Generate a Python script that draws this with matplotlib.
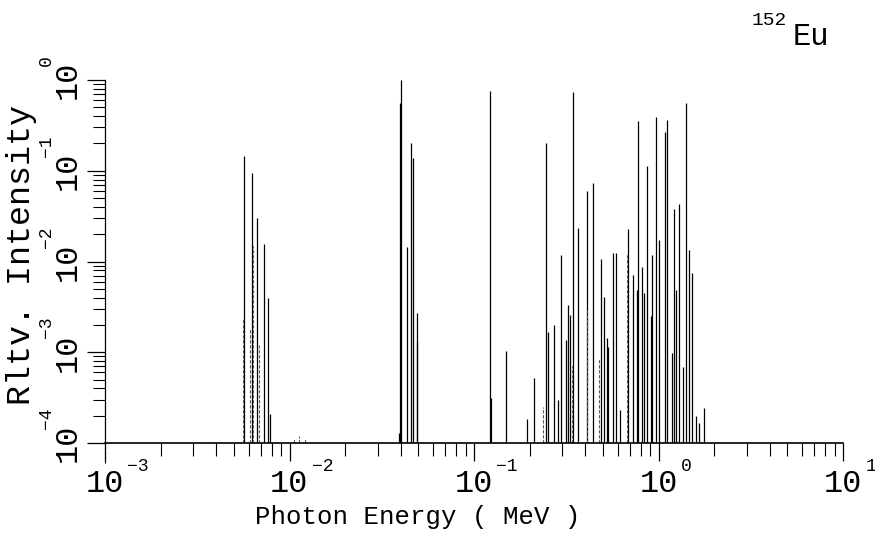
import numpy as np
import matplotlib
matplotlib.use("Agg")
import matplotlib.pyplot as plt
from matplotlib.ticker import LogLocator, NullFormatter

# Sm L x-rays (MeV, relative intensity)
lx_energy = [0.00566, 0.00629, 0.00669, 0.00730, 0.00768, 0.00784]
lx_int = [0.145, 0.094, 0.030, 0.0156, 0.0040, 0.00021]

# Sm K x-rays
kx_energy = [0.0390, 0.03952, 0.04012, 0.0435, 0.0454, 0.0466, 0.0490, 0.0494]
kx_int = [0.00013, 0.56, 1.0, 0.0146, 0.20, 0.137, 0.0027, 0.0013]

# gamma lines
g_energy = [0.1218, 0.1231, 0.1485, 0.1926, 0.2122, 0.2447, 0.2516, 0.2699,
            0.2843, 0.2959, 0.3141, 0.3248, 0.3294, 0.3443, 0.3678, 0.4111,
            0.4440, 0.4887, 0.5035, 0.5240, 0.5345, 0.5640, 0.5863, 0.6185,
            0.6860, 0.7277, 0.7616, 0.7789, 0.8105, 0.8375, 0.8674, 0.9073,
            0.9193, 0.9641, 1.0053, 1.0858, 1.1121, 1.1789, 1.2130, 1.2443,
            1.2991, 1.3627, 1.4080, 1.4576, 1.5281, 1.597, 1.658, 1.769]
g_int = [0.757, 0.00031, 0.00104, 0.000184, 0.00052, 0.201, 0.00168, 0.0020,
         0.00030, 0.0118, 0.00136, 0.0033, 0.0026, 0.732, 0.0232, 0.0598,
         0.0738, 0.0106, 0.0041, 0.00143, 0.00115, 0.0125, 0.0123, 0.00023,
         0.0226, 0.0071, 0.00485, 0.356, 0.0086, 0.0045, 0.113, 0.0025,
         0.0118, 0.394, 0.0173, 0.269, 0.362, 0.00098, 0.0376, 0.0049,
         0.0430, 0.00069, 0.562, 0.0134, 0.0074, 0.00020, 0.000165, 0.00024]

# weak lines, printed broken in the original
weak_energy = [0.00561, 0.00611, 0.00633, 0.00684, 0.0106, 0.0113, 0.0122,
               0.2366, 0.3398, 0.4113, 0.4742, 0.6746]
weak_int = [0.0024, 0.0018, 0.0148, 0.0012, 0.00011, 0.00012, 0.00011,
            0.00025, 0.0007, 0.0029, 0.00086, 0.0125]

x_exps = [-3, -2, -1, 0, 1]
y_exps = [-4, -3, -2, -1, 0]

plt.rcParams["font.family"] = ["Liberation Mono", "DejaVu Sans"]

fig = plt.figure(figsize=(8.75, 5.52), dpi=100)
ax = fig.add_axes([105 / 875, 1 - 443 / 552, 738 / 875, 363 / 552])
ax.set_xscale("log")
ax.set_yscale("log")
ax.set_xlim(1e-3, 1e1)
ax.set_ylim(1e-4, 1e0)

base = 1e-4
ax.vlines(lx_energy, base, lx_int, color="k", lw=0.9)
ax.vlines(kx_energy, base, kx_int, color="k", lw=0.9)
ax.vlines(g_energy, base, g_int, color="k", lw=0.9)
ax.vlines(weak_energy, base, weak_int, color="0.35", lw=0.8,
          linestyles=(0, (3, 1.5)))

for s in ["top", "right"]:
    ax.spines[s].set_visible(False)
ax.spines["left"].set_linewidth(0.9)
ax.spines["bottom"].set_linewidth(1.2)
# left spine pokes below the energy axis in the original
ax.plot([0, 0], [0, -0.055], transform=ax.transAxes, clip_on=False,
        color="k", lw=0.8, ls=(0, (2, 2)))

ax.xaxis.set_major_locator(LogLocator(base=10, numticks=10))
ax.xaxis.set_minor_locator(LogLocator(base=10, subs=np.arange(2, 10), numticks=20))
ax.yaxis.set_major_locator(LogLocator(base=10, numticks=10))
ax.yaxis.set_minor_locator(LogLocator(base=10, subs=np.arange(2, 10), numticks=20))
ax.xaxis.set_minor_formatter(NullFormatter())
ax.yaxis.set_minor_formatter(NullFormatter())
ax.tick_params(which="major", direction="out", length=13, width=0.9,
               labelbottom=False, labelleft=False)
ax.tick_params(which="minor", direction="out", length=9, width=0.8)

# tick labels drawn as 10 + raised exponent, like the plotter output
for e in x_exps:
    ax.annotate("10", xy=(10.0 ** e, 0), xycoords=ax.get_xaxis_transform(),
                xytext=(0, -19), textcoords="offset points",
                ha="center", va="top", fontsize=23)
    ax.annotate(str(e).replace("-", "\u2212"), xy=(10.0 ** e, 0),
                xycoords=ax.get_xaxis_transform(),
                xytext=(16, -11), textcoords="offset points",
                ha="left", va="top", fontsize=13)

for e in y_exps:
    ax.annotate("10", xy=(0, 10.0 ** e), xycoords=ax.get_yaxis_transform(),
                xytext=(-27, 0), textcoords="offset points",
                ha="center", va="center", rotation=90, fontsize=23)
    ax.annotate(str(e).replace("-", "\u2212"), xy=(0, 10.0 ** e),
                xycoords=ax.get_yaxis_transform(),
                xytext=(-42, 10), textcoords="offset points",
                ha="center", va="bottom", rotation=90, fontsize=13)

fig.text(22 / 875, 1 - 255 / 552, "Rltv. Intensity", rotation=90,
         ha="center", va="center", fontsize=24)
fig.text(418 / 875, 1 - 524 / 552, "Photon Energy ( MeV )",
         ha="center", va="baseline", fontsize=18.5)
fig.text(752 / 875, 1 - 25 / 552, "152", ha="left", va="baseline", fontsize=14)
fig.text(793 / 875, 1 - 45 / 552, "Eu", ha="left", va="baseline", fontsize=22)

fig.savefig("out.png", dpi=100)
